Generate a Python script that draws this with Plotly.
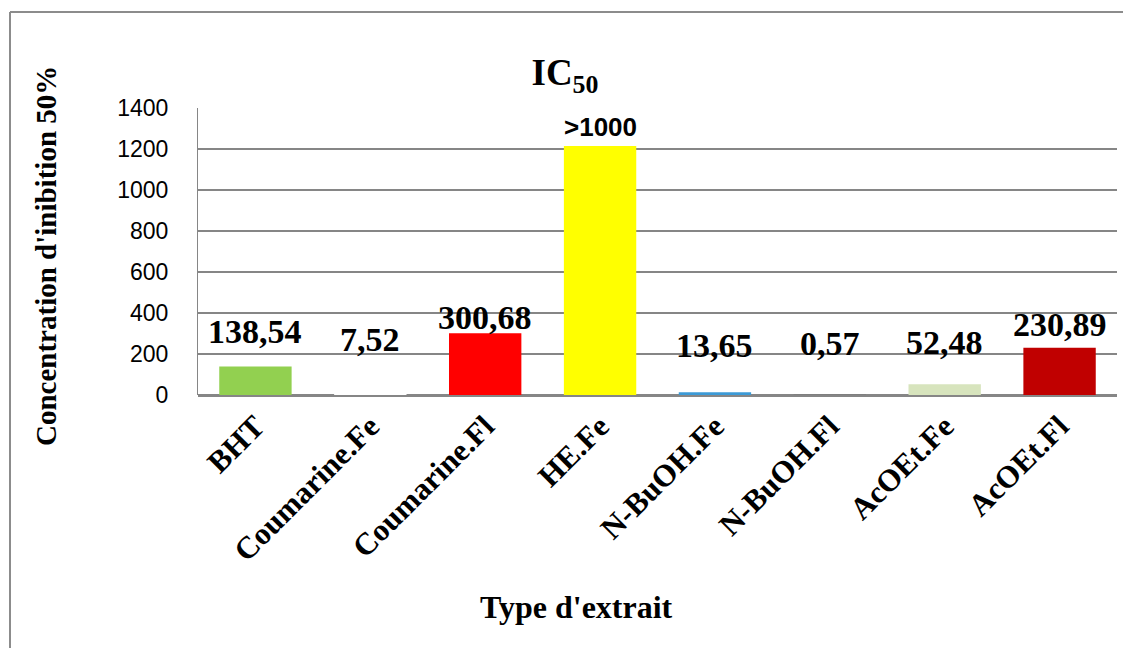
import plotly.graph_objects as go

categories = ["BHT", "Coumarine.Fe", "Coumarine.Fl", "HE.Fe", "N-BuOH.Fe", "N-BuOH.Fl", "AcOEt.Fe", "AcOEt.Fl"]
values = [138.54, 7.52, 300.68, 1215, 13.65, 0.57, 52.48, 230.89]
label_texts = ["138,54", "7,52", "300,68", ">1000", "13,65", "0,57", "52,48", "230,89"]
label_y = [312, 271, 378, 1309, 241, 249, 256, 346]
bar_colors = ["#92D050", "#FFFFFF", "#FF0000", "#FFFF00", "#3C9AD6", "#7F7F7F", "#D7E4BD", "#C00000"]
y_ticks = [0, 200, 400, 600, 800, 1000, 1200, 1400]

W, H = 1131, 648
OFF = 8  # page body margin
# plot area in screen pixels
L, R, T, B = 198, 1117, 108, 395
pw, ph = R - L, B - T


def px(x):
    return (x - L) / pw


def py(y):
    return (B - y) / ph


fig = go.Figure()
fig.add_trace(go.Bar(
    x=categories, y=values,
    marker=dict(color=bar_colors, line=dict(width=0)),
    hoverinfo="x+y",
))

serif = "Liberation Serif, Times New Roman, serif"
sans = "Liberation Sans, Arial, sans-serif"

annotations = []
for c, t, ly in zip(categories, label_texts, label_y):
    is_sans = t.startswith(">")
    annotations.append(dict(
        x=c, y=ly, xref="x", yref="y", text=f"<b>{t}</b>", showarrow=False,
        font=dict(family=sans if is_sans else serif, size=26 if is_sans else 34, color="black"),
        xanchor="center", yanchor="middle",
    ))

annotations.append(dict(
    x=px(46), y=py(256), xref="paper", yref="paper", text="<b>Concentration d'inibition 50%</b>",
    textangle=-90, showarrow=False, font=dict(family=serif, size=29, color="black"),
    xanchor="center", yanchor="middle",
))
annotations.append(dict(
    x=px(576), y=py(607), xref="paper", yref="paper", text="<b>Type d'extrait</b>",
    showarrow=False, font=dict(family=serif, size=32, color="black"),
    xanchor="center", yanchor="middle",
))

frame = "#8C8C8C"
shapes = [
    dict(type="line", xref="paper", yref="paper", x0=px(10), x1=px(W + 20), y0=py(12), y1=py(12),
         line=dict(color=frame, width=2)),
    dict(type="line", xref="paper", yref="paper", x0=px(10), x1=px(10), y0=py(12), y1=py(H + 20),
         line=dict(color=frame, width=2)),
]

fig.update_layout(
    width=W, height=H,
    margin=dict(l=L - OFF, r=W - (R - OFF), t=T - OFF, b=H - (B - OFF), pad=0),
    paper_bgcolor="white", plot_bgcolor="white",
    showlegend=False,
    bargap=0.37,
    title=dict(text="<b>IC<sub>50</sub></b>", x=(565 - OFF) / W, xref="container",
               y=1 - (72 - OFF) / H, yref="container",
               xanchor="center", yanchor="middle",
               font=dict(family=serif, size=37, color="black")),
    xaxis=dict(
        tickangle=-45, tickfont=dict(family=serif, size=31, color="black", weight="bold"),
        showgrid=False, showline=False, ticks="", automargin=False, ticklabelstandoff=6,
    ),
    yaxis=dict(
        range=[0, 1400], tickvals=y_ticks, ticktext=[str(v) for v in y_ticks],
        tickfont=dict(family=sans, size=23, color="black"),
        showgrid=True, gridcolor="#868686", gridwidth=1.5,
        zeroline=True, zerolinecolor="#868686", zerolinewidth=2.5,
        showline=True, linecolor="#868686", linewidth=1,
        ticks="", ticklen=0, automargin=False, ticklabelstandoff=24,
    ),
    annotations=annotations,
    shapes=shapes,
)

fig.write_html("out.html")
